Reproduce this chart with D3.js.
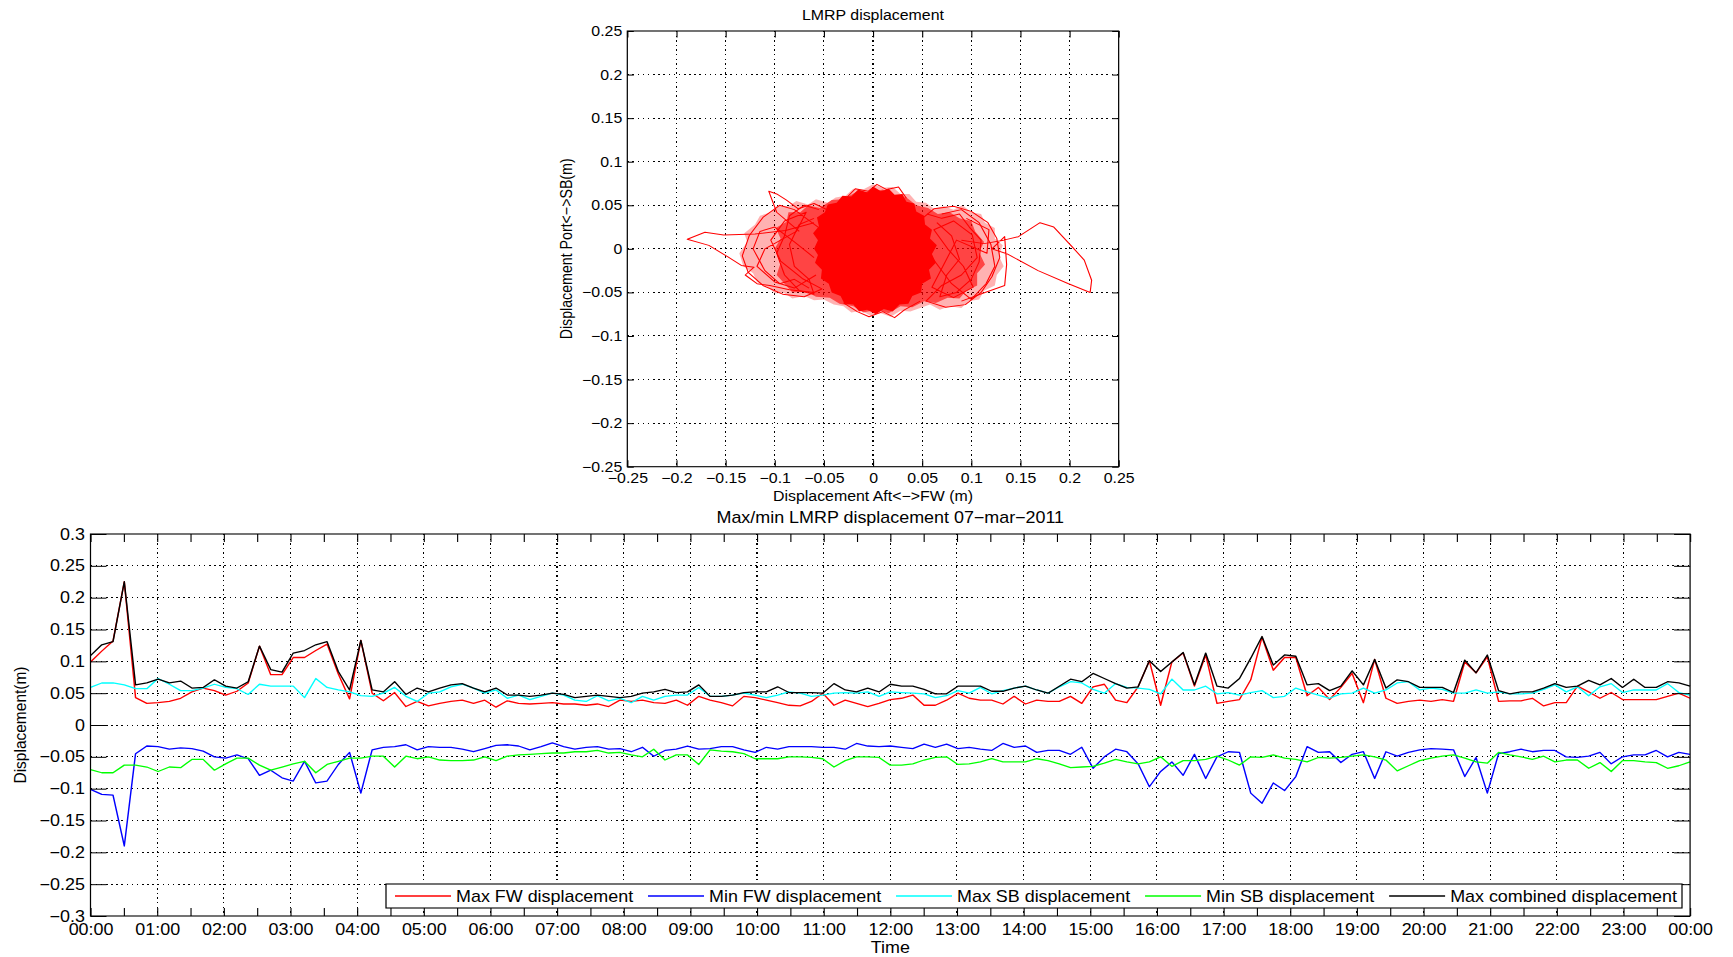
<!DOCTYPE html>
<html>
<head>
<meta charset="utf-8">
<script src="https://cdn.jsdelivr.net/npm/d3@7"></script>
<style>
  body { margin: 0; background: #fff; }
  svg { display: block; }
  text { font-family: "Liberation Sans", Arial, Helvetica, sans-serif; fill: #000; }
  .top text { font-size: 14.2px; }
  .bottom text { font-size: 16px; }
</style>
</head>
<body>
<div id="chart"></div>
<script>
// ---------- top chart: LMRP excursion (Aft<->FW vs Port<->SB) ----------
var scatterTicks = [-0.25, -0.2, -0.15, -0.1, -0.05, 0, 0.05, 0.1, 0.15, 0.2, 0.25];

// outline of the lightly tangled zone
var cloudOuter = [[-0.136,-0.005],[-0.128,0.008],[-0.131,0.018],[-0.120,0.028],[-0.115,0.038],[-0.104,0.042],
  [-0.097,0.050],[-0.086,0.049],[-0.078,0.055],[-0.066,0.051],[-0.058,0.057],[-0.046,0.053],[-0.038,0.059],
  [-0.028,0.061],[-0.020,0.069],[-0.010,0.068],[0.000,0.074],[0.010,0.070],[0.020,0.071],[0.028,0.063],
  [0.037,0.063],[0.044,0.054],[0.054,0.053],[0.062,0.046],[0.072,0.049],[0.082,0.045],[0.091,0.050],
  [0.100,0.042],[0.110,0.040],[0.114,0.030],[0.124,0.024],[0.124,0.012],[0.132,0.004],[0.128,-0.008],
  [0.133,-0.020],[0.126,-0.030],[0.124,-0.042],[0.113,-0.048],[0.108,-0.058],[0.097,-0.060],[0.090,-0.068],
  [0.078,-0.066],[0.068,-0.070],[0.058,-0.064],[0.048,-0.068],[0.038,-0.072],[0.028,-0.071],[0.018,-0.078],
  [0.008,-0.074],[-0.002,-0.077],[-0.012,-0.071],[-0.022,-0.073],[-0.030,-0.066],[-0.040,-0.064],
  [-0.050,-0.058],[-0.060,-0.059],[-0.070,-0.054],[-0.082,-0.057],[-0.090,-0.051],[-0.100,-0.051],
  [-0.108,-0.043],[-0.118,-0.038],[-0.122,-0.028],[-0.132,-0.020]];
// outline of the dense zone
var cloudInner = [[-0.100,0.000],[-0.094,0.012],[-0.099,0.024],[-0.088,0.031],[-0.086,0.042],[-0.074,0.042],
  [-0.066,0.050],[-0.054,0.047],[-0.042,0.056],[-0.030,0.057],[-0.016,0.066],[-0.004,0.064],[0.010,0.068],
  [0.022,0.060],[0.034,0.059],[0.044,0.050],[0.056,0.047],[0.066,0.040],[0.078,0.042],[0.088,0.035],
  [0.100,0.032],[0.104,0.020],[0.113,0.008],[0.108,-0.004],[0.114,-0.018],[0.106,-0.028],[0.106,-0.042],
  [0.095,-0.048],[0.088,-0.057],[0.076,-0.056],[0.064,-0.062],[0.052,-0.060],[0.040,-0.067],[0.028,-0.066],
  [0.016,-0.074],[0.004,-0.070],[-0.010,-0.073],[-0.020,-0.066],[-0.034,-0.063],[-0.044,-0.056],
  [-0.058,-0.055],[-0.068,-0.049],[-0.082,-0.050],[-0.090,-0.040],[-0.098,-0.030],[-0.094,-0.016]];
// outline of the solid core
var cloudCore = [[-0.060,0.000],[-0.056,0.010],[-0.061,0.018],[-0.055,0.026],[-0.057,0.036],[-0.049,0.042],
  [-0.046,0.051],[-0.037,0.053],[-0.031,0.061],[-0.022,0.060],[-0.015,0.068],[-0.006,0.065],[0.001,0.071],
  [0.008,0.066],[0.016,0.069],[0.022,0.062],[0.030,0.063],[0.034,0.054],[0.042,0.052],[0.044,0.043],
  [0.052,0.038],[0.053,0.028],[0.060,0.022],[0.058,0.012],[0.065,0.004],[0.060,-0.006],[0.064,-0.016],
  [0.057,-0.024],[0.059,-0.034],[0.050,-0.040],[0.049,-0.050],[0.040,-0.054],[0.036,-0.063],[0.027,-0.064],
  [0.020,-0.072],[0.011,-0.069],[0.003,-0.075],[-0.006,-0.070],[-0.014,-0.072],[-0.020,-0.064],[-0.029,-0.063],
  [-0.033,-0.054],[-0.042,-0.050],[-0.045,-0.040],[-0.053,-0.034],[-0.052,-0.024],[-0.059,-0.016],[-0.056,-0.007]];

// single excursions and loops that stand out of the cloud
var traceWest = [[-0.050,0.020],[-0.080,0.045],[-0.095,0.050],[-0.112,0.036],[-0.126,0.015],[-0.133,-0.008],
  [-0.127,-0.027],[-0.112,-0.042],[-0.092,-0.052],[-0.070,-0.055],[-0.052,-0.046],[-0.072,-0.034],[-0.094,-0.014],
  [-0.104,0.010],[-0.090,0.032],[-0.068,0.042],[-0.078,0.020],[-0.110,0.000],[-0.118,-0.020],[-0.100,-0.038],
  [-0.080,-0.045],[-0.058,-0.030]];
var traceWest2 = [[-0.055,0.045],[-0.070,0.050],[-0.085,0.038],[-0.090,0.015],[-0.098,-0.005],[-0.090,-0.030],
  [-0.075,-0.048],[-0.060,-0.052],[-0.065,-0.035],[-0.080,-0.020],[-0.085,0.005],[-0.075,0.028],[-0.060,0.035]];
var traceWest3 = [[-0.060,-0.010],[-0.080,0.008],[-0.100,0.025],[-0.115,0.020],[-0.122,0.000],[-0.110,-0.025],
  [-0.095,-0.040],[-0.080,-0.035],[-0.065,-0.045]];
var traceEast = [[0.045,0.030],[0.062,0.046],[0.082,0.049],[0.100,0.043],[0.117,0.030],[0.126,0.012],[0.129,-0.010],
  [0.121,-0.032],[0.110,-0.050],[0.094,-0.064],[0.074,-0.067],[0.054,-0.060],[0.070,-0.042],[0.090,-0.030],
  [0.106,-0.010],[0.101,0.016],[0.082,0.032],[0.062,0.022],[0.076,0.000],[0.092,-0.020],[0.102,-0.044],
  [0.082,-0.056],[0.060,-0.044],[0.085,0.010],[0.116,-0.005],[0.118,0.022],[0.095,0.035]];
var traceEast2 = [[0.055,0.040],[0.070,0.035],[0.088,0.040],[0.098,0.025],[0.110,0.010],[0.108,-0.015],
  [0.100,-0.035],[0.085,-0.050],[0.068,-0.055],[0.075,-0.030],[0.088,-0.012],[0.080,0.015],[0.065,0.030]];
var traceEast3 = [[0.060,-0.010],[0.080,-0.040],[0.100,-0.058],[0.115,-0.040],[0.124,-0.020],[0.120,0.005],
  [0.108,0.030],[0.090,0.045],[0.070,0.040]];
var traceLeftArm = [[-0.060,0.030],[-0.089,0.021],[-0.120,0.017],[-0.152,0.016],[-0.171,0.019],[-0.189,0.011],
  [-0.167,0.004],[-0.148,-0.009],[-0.134,-0.019],[-0.121,-0.021],[-0.130,-0.030],[-0.118,-0.040],[-0.105,-0.042],
  [-0.085,-0.047],[-0.060,-0.050]];
var traceRightArm = [[0.090,0.010],[0.113,0.006],[0.133,0.010],[0.148,0.014],[0.170,0.030],[0.184,0.025],
  [0.203,0.002],[0.215,-0.013],[0.2225,-0.036],[0.221,-0.050],[0.199,-0.040],[0.168,-0.025],[0.137,-0.006],
  [0.121,0.000],[0.134,0.014],[0.136,-0.018],[0.134,-0.042],[0.114,-0.050],[0.090,-0.060]];
var traceSpike = [[-0.075,0.020],[-0.098,0.042],[-0.106,0.066],[-0.098,0.063],[-0.088,0.056],[-0.076,0.046],
  [-0.060,0.052],[-0.045,0.044]];
var traceNorth = [[-0.030,0.055],[-0.018,0.069],[-0.005,0.066],[0.004,0.074],[0.014,0.068],[0.026,0.071],[0.034,0.058]];
var traceSouth = [[-0.030,-0.062],[-0.016,-0.072],[-0.004,-0.078],[0.010,-0.072],[0.022,-0.079],[0.032,-0.070],[0.048,-0.060]];

// ---------- bottom chart: max/min per sample over the day ----------
var seriesNames = ["Max FW displacement", "Min FW displacement", "Max SB displacement",
                   "Min SB displacement", "Max combined displacement"];
var seriesColors = ["#ff0000", "#0000ff", "#00ffff", "#00ff00", "#000000"];

var maxFW = [0.099,0.116,0.132,0.225,0.043,0.034,0.035,0.037,0.042,0.052,0.058,0.054,0.047,0.053,0.066,0.124,0.079,0.079,0.106,0.106,0.117,0.127,0.080,0.041,0.133,
  0.050,0.038,0.051,0.029,0.037,0.030,0.034,0.037,0.039,0.034,0.039,0.028,0.038,0.034,0.033,0.034,0.035,0.033,0.033,0.031,0.033,0.029,0.039,
  0.037,0.039,0.035,0.034,0.039,0.031,0.045,0.039,0.035,0.030,0.045,0.043,0.039,0.035,0.031,0.030,0.037,0.050,0.031,0.039,0.034,0.029,0.034,0.040,
  0.042,0.047,0.031,0.031,0.039,0.050,0.042,0.039,0.039,0.033,0.045,0.033,0.039,0.037,0.037,0.045,0.034,0.060,0.064,0.039,0.035,0.060,0.101,
  0.031,0.099,0.113,0.061,0.110,0.034,0.037,0.040,0.071,0.138,0.086,0.106,0.106,0.046,0.059,0.040,0.059,0.081,0.035,0.103,0.042,0.034,0.037,0.039,
  0.037,0.040,0.037,0.099,0.082,0.107,0.037,0.038,0.038,0.042,0.030,0.035,0.035,0.061,0.052,0.042,0.051,0.040,0.040,0.040,0.040,0.045,0.050,0.042];
var minFW = [-0.101,-0.109,-0.110,-0.190,-0.045,-0.033,-0.034,-0.038,-0.036,-0.037,-0.041,-0.050,-0.052,-0.047,-0.053,-0.079,-0.071,-0.083,-0.088,-0.057,-0.091,-0.088,-0.062,-0.043,-0.107,
  -0.039,-0.035,-0.034,-0.031,-0.039,-0.034,-0.035,-0.035,-0.038,-0.042,-0.037,-0.032,-0.031,-0.033,-0.039,-0.034,-0.028,-0.034,-0.038,-0.035,-0.034,-0.038,-0.037,
  -0.042,-0.035,-0.049,-0.040,-0.038,-0.033,-0.038,-0.037,-0.034,-0.034,-0.039,-0.043,-0.035,-0.038,-0.034,-0.034,-0.034,-0.035,-0.035,-0.038,-0.029,-0.033,-0.034,-0.033,
  -0.035,-0.037,-0.030,-0.035,-0.030,-0.037,-0.035,-0.038,-0.040,-0.029,-0.035,-0.033,-0.043,-0.040,-0.040,-0.046,-0.035,-0.068,-0.050,-0.038,-0.042,-0.061,-0.097,
  -0.073,-0.058,-0.079,-0.046,-0.084,-0.050,-0.042,-0.043,-0.107,-0.123,-0.091,-0.103,-0.081,-0.034,-0.043,-0.042,-0.059,-0.046,-0.042,-0.084,-0.042,-0.049,-0.043,-0.039,
  -0.037,-0.038,-0.039,-0.081,-0.051,-0.107,-0.045,-0.042,-0.038,-0.042,-0.040,-0.040,-0.050,-0.051,-0.049,-0.043,-0.061,-0.050,-0.047,-0.047,-0.040,-0.050,-0.043,-0.046];
var maxSB = [0.059,0.066,0.066,0.063,0.057,0.057,0.073,0.064,0.054,0.054,0.058,0.064,0.059,0.057,0.048,0.064,0.061,0.061,0.061,0.043,0.073,0.059,0.055,0.052,0.046,
  0.045,0.050,0.059,0.045,0.037,0.050,0.052,0.060,0.064,0.058,0.050,0.055,0.042,0.047,0.040,0.045,0.050,0.047,0.039,0.037,0.046,0.038,0.042,
  0.035,0.045,0.039,0.045,0.047,0.047,0.059,0.045,0.045,0.047,0.050,0.047,0.043,0.047,0.052,0.050,0.045,0.047,0.050,0.051,0.050,0.052,0.045,0.052,
  0.051,0.050,0.049,0.043,0.046,0.054,0.050,0.059,0.049,0.054,0.058,0.061,0.055,0.050,0.060,0.068,0.066,0.056,0.050,0.065,0.059,0.058,0.056,
  0.049,0.072,0.055,0.055,0.061,0.049,0.051,0.047,0.051,0.054,0.043,0.045,0.058,0.052,0.047,0.042,0.049,0.050,0.058,0.050,0.055,0.066,0.068,0.055,
  0.058,0.056,0.050,0.050,0.055,0.050,0.052,0.049,0.049,0.050,0.056,0.063,0.052,0.060,0.046,0.060,0.065,0.051,0.055,0.055,0.055,0.065,0.051,0.047];
var minSB = [-0.070,-0.075,-0.075,-0.063,-0.063,-0.066,-0.073,-0.066,-0.067,-0.054,-0.054,-0.071,-0.061,-0.052,-0.052,-0.063,-0.071,-0.066,-0.061,-0.057,-0.075,-0.062,-0.057,-0.052,-0.052,
  -0.049,-0.049,-0.066,-0.049,-0.053,-0.050,-0.055,-0.056,-0.056,-0.055,-0.050,-0.056,-0.049,-0.047,-0.046,-0.045,-0.044,-0.044,-0.042,-0.042,-0.040,-0.044,-0.043,
  -0.047,-0.050,-0.038,-0.055,-0.047,-0.047,-0.062,-0.039,-0.041,-0.042,-0.045,-0.053,-0.053,-0.053,-0.050,-0.050,-0.051,-0.053,-0.066,-0.056,-0.050,-0.050,-0.051,-0.063,
  -0.063,-0.061,-0.055,-0.051,-0.050,-0.062,-0.061,-0.058,-0.053,-0.058,-0.058,-0.058,-0.053,-0.056,-0.061,-0.067,-0.066,-0.065,-0.060,-0.054,-0.058,-0.061,-0.058,
  -0.050,-0.065,-0.056,-0.056,-0.054,-0.049,-0.055,-0.063,-0.050,-0.051,-0.047,-0.052,-0.054,-0.058,-0.051,-0.052,-0.051,-0.049,-0.047,-0.050,-0.055,-0.072,-0.064,-0.056,
  -0.052,-0.049,-0.047,-0.052,-0.058,-0.060,-0.043,-0.047,-0.050,-0.054,-0.049,-0.058,-0.055,-0.055,-0.068,-0.059,-0.073,-0.056,-0.056,-0.058,-0.059,-0.068,-0.064,-0.058];
var maxComb = [0.109,0.126,0.131,0.225,0.063,0.066,0.072,0.066,0.069,0.058,0.059,0.071,0.061,0.058,0.068,0.124,0.087,0.083,0.113,0.117,0.126,0.131,0.084,0.055,0.133,
  0.055,0.052,0.068,0.048,0.058,0.052,0.058,0.063,0.065,0.058,0.052,0.058,0.047,0.047,0.045,0.047,0.050,0.048,0.043,0.045,0.047,0.045,0.043,
  0.045,0.050,0.052,0.056,0.051,0.052,0.063,0.045,0.045,0.047,0.051,0.052,0.052,0.060,0.051,0.051,0.051,0.050,0.065,0.055,0.052,0.058,0.052,0.064,
  0.061,0.061,0.056,0.049,0.049,0.061,0.061,0.061,0.053,0.053,0.058,0.061,0.055,0.050,0.061,0.072,0.068,0.081,0.073,0.065,0.058,0.060,0.101,
  0.084,0.099,0.114,0.063,0.113,0.061,0.058,0.073,0.105,0.139,0.094,0.110,0.108,0.063,0.065,0.054,0.061,0.085,0.063,0.103,0.058,0.071,0.068,0.059,
  0.059,0.059,0.051,0.102,0.082,0.110,0.054,0.049,0.052,0.052,0.058,0.065,0.059,0.061,0.070,0.063,0.073,0.059,0.072,0.059,0.059,0.068,0.066,0.061];

var dispTicks = [-0.3, -0.25, -0.2, -0.15, -0.1, -0.05, 0, 0.05, 0.1, 0.15, 0.2, 0.25, 0.3];
var dayStart = new Date(2011, 2, 7, 0, 0);
var dayEnd = new Date(2011, 2, 8, 0, 0);

// ---------- drawing ----------
var W = 1733, H = 957;
var SX = 1.12;           // the reference picture is stretched sideways, so draw in a stretched group
var fmt = d3.format("~g");

var svg = d3.select("#chart").append("svg").attr("width", W).attr("height", H);
var root = svg.append("g").attr("transform", "scale(" + SX + ",1)");

function dotted(sel) {
    return sel.attr("stroke", "#000").attr("stroke-width", 1).attr("stroke-dasharray", "1.4,3.2")
      .attr("shape-rendering", "crispEdges");
}

// ===== TOP =====
var tb = {left: 560.1, right: 998.8, top: 31, bottom: 466.7};
var sx = d3.scaleLinear().domain([-0.25, 0.25]).range([tb.left, tb.right]);
var sy = d3.scaleLinear().domain([-0.25, 0.25]).range([tb.bottom, tb.top]);
var gt = root.append("g").attr("class", "top");

gt.append("rect").attr("x", tb.left).attr("y", tb.top)
  .attr("width", tb.right - tb.left).attr("height", tb.bottom - tb.top).attr("fill", "#fff");

gt.append("g").selectAll("line").data(scatterTicks.slice(1, -1)).enter().append("line")
  .attr("x1", d => sx(d)).attr("x2", d => sx(d)).attr("y1", tb.top).attr("y2", tb.bottom).call(dotted);
gt.append("g").selectAll("line").data(scatterTicks.slice(1, -1)).enter().append("line")
  .attr("y1", d => sy(d)).attr("y2", d => sy(d)).attr("x1", tb.left).attr("x2", tb.right).call(dotted);

var cloudPath = d3.line().x(d => sx(d[0])).y(d => sy(d[1])).curve(d3.curveLinearClosed);
gt.append("path").attr("d", cloudPath(cloudOuter)).attr("fill", "#ff0000").attr("fill-opacity", 0.3);
gt.append("path").attr("d", cloudPath(cloudInner)).attr("fill", "#ff0000").attr("fill-opacity", 0.62);
gt.append("path").attr("d", cloudPath(cloudCore)).attr("fill", "#ff0000");

var tracePath = d3.line().x(d => sx(d[0])).y(d => sy(d[1]));
gt.append("g").selectAll("path")
  .data([traceWest, traceWest2, traceWest3, traceEast, traceEast2, traceEast3,
         traceLeftArm, traceRightArm, traceSpike, traceNorth, traceSouth])
  .enter().append("path")
  .attr("d", tracePath).attr("fill", "none").attr("stroke", "#ff0000").attr("stroke-width", 1)
  .attr("stroke-linejoin", "round");

var tickH = 6.5, tickW = 6.5 / SX;
gt.append("g").attr("transform", "translate(0," + tb.bottom + ")")
  .call(d3.axisBottom(sx).tickValues(scatterTicks).tickFormat(fmt).tickSizeInner(-tickH).tickSizeOuter(0).tickPadding(6.6));
gt.append("g").attr("transform", "translate(0," + tb.top + ")")
  .call(d3.axisTop(sx).tickValues(scatterTicks).tickFormat("").tickSizeInner(-tickH).tickSizeOuter(0));
gt.append("g").attr("transform", "translate(" + tb.left + ",0)")
  .call(d3.axisLeft(sy).tickValues(scatterTicks).tickFormat(fmt).tickSizeInner(-tickW).tickSizeOuter(0).tickPadding(4.5));
gt.append("g").attr("transform", "translate(" + tb.right + ",0)")
  .call(d3.axisRight(sy).tickValues(scatterTicks).tickFormat("").tickSizeInner(-tickW).tickSizeOuter(0));
gt.selectAll(".domain").remove();
gt.append("rect").attr("x", tb.left).attr("y", tb.top)
  .attr("width", tb.right - tb.left).attr("height", tb.bottom - tb.top)
  .attr("fill", "none").attr("stroke", "#000").attr("stroke-width", 1.1);

gt.append("text").attr("x", (tb.left + tb.right) / 2).attr("y", 20).attr("text-anchor", "middle")
  .text("LMRP displacement");
gt.append("text").attr("x", (tb.left + tb.right) / 2).attr("y", 501).attr("text-anchor", "middle")
  .text("Displacement Aft<\u2212>FW (m)");
gt.append("text").attr("transform", "translate(" + (566 / SX) + "," + ((tb.top + tb.bottom) / 2) + ") rotate(-90)")
  .attr("text-anchor", "middle").attr("dy", "0.36em")
  .text("Displacement Port<\u2212>SB(m)");

// ===== BOTTOM =====
var bb = {left: 80.8, right: 1509, top: 534, bottom: 916};
var tx = d3.scaleTime().domain([dayStart, dayEnd]).range([bb.left, bb.right]);
var dy = d3.scaleLinear().domain([-0.3, 0.3]).range([bb.bottom, bb.top]);
var gb = root.append("g").attr("class", "bottom");

var halfHours = tx.ticks(d3.timeMinute.every(30));
var hours = tx.ticks(d3.timeHour.every(1));
var hm = d3.timeFormat("%H:%M");

gb.append("g").selectAll("line").data(hours.slice(1, -1)).enter().append("line")
  .attr("x1", d => tx(d)).attr("x2", d => tx(d)).attr("y1", bb.top).attr("y2", bb.bottom).call(dotted);
gb.append("g").selectAll("line").data(dispTicks.slice(1, -1)).enter().append("line")
  .attr("y1", d => dy(d)).attr("y2", d => dy(d)).attr("x1", bb.left).attr("x2", bb.right).call(dotted);

var series = [maxFW, minFW, maxSB, minSB, maxComb];
var nSamples = maxFW.length;
var step = (dayEnd - dayStart) / (nSamples - 1);
var seriesLine = d3.line().x((d, i) => tx(new Date(+dayStart + i * step))).y(d => dy(d));
gb.append("g").selectAll("path").data(series).enter().append("path")
  .attr("d", seriesLine).attr("fill", "none")
  .attr("stroke", (d, i) => seriesColors[i]).attr("stroke-width", 1.3).attr("stroke-linejoin", "round");

var xLen = 8, yLen = 16 / SX;
gb.append("g").attr("transform", "translate(0," + bb.bottom + ")")
  .call(d3.axisBottom(tx).tickValues(halfHours).tickFormat(d => d.getMinutes() === 0 ? hm(d) : "")
    .tickSizeInner(-xLen).tickSizeOuter(0).tickPadding(8));
gb.append("g").attr("transform", "translate(0," + bb.top + ")")
  .call(d3.axisTop(tx).tickValues(halfHours).tickFormat("").tickSizeInner(-xLen).tickSizeOuter(0));
gb.append("g").attr("transform", "translate(" + bb.left + ",0)")
  .call(d3.axisLeft(dy).tickValues(dispTicks).tickFormat(fmt).tickSizeInner(-yLen).tickSizeOuter(0).tickPadding(5));
gb.append("g").attr("transform", "translate(" + bb.right + ",0)")
  .call(d3.axisRight(dy).tickValues(dispTicks).tickFormat("").tickSizeInner(-yLen).tickSizeOuter(0));
gb.selectAll(".domain").remove();

// legend (inside, lower right)
var lg = {left: 386 / SX, right: 1682 / SX, top: 884, bottom: 908};
gb.append("rect").attr("x", lg.left).attr("y", lg.top)
  .attr("width", lg.right - lg.left).attr("height", lg.bottom - lg.top)
  .attr("fill", "#fff").attr("stroke", "#000").attr("stroke-width", 1.1);
var lineLen = 50, textGap = 4.5, startX = 395 / SX, endX = 1677 / SX, ly = (lg.top + lg.bottom) / 2;
var items = gb.append("g").selectAll("g").data(seriesNames).enter().append("g");
items.append("line").attr("y1", ly).attr("y2", ly)
  .attr("stroke", (d, i) => seriesColors[i]).attr("stroke-width", 1.3);
items.append("text").attr("y", ly).attr("dy", "0.35em").text(d => d);
var widths = [];
items.select("text").each(function () { widths.push(this.getComputedTextLength()); });
var itemGap = (endX - startX - seriesNames.length * (lineLen + textGap) - d3.sum(widths)) / (seriesNames.length - 1);
var cursorX = startX;
items.each(function (d, i) {
    var g = d3.select(this);
    g.select("line").attr("x1", cursorX).attr("x2", cursorX + lineLen);
    g.select("text").attr("x", cursorX + lineLen + textGap);
    cursorX += lineLen + textGap + widths[i] + itemGap;
});

gb.append("rect").attr("x", bb.left).attr("y", bb.top)
  .attr("width", bb.right - bb.left).attr("height", bb.bottom - bb.top)
  .attr("fill", "none").attr("stroke", "#000").attr("stroke-width", 1.1);

gb.append("text").attr("x", (bb.left + bb.right) / 2).attr("y", 523).attr("text-anchor", "middle")
  .text("Max/min LMRP displacement 07\u2212mar\u22122011");
gb.append("text").attr("x", (bb.left + bb.right) / 2).attr("y", 953).attr("text-anchor", "middle")
  .text("Time");
gb.append("text").attr("transform", "translate(" + (20 / SX) + "," + ((bb.top + bb.bottom) / 2) + ") rotate(-90)")
  .attr("text-anchor", "middle").attr("dy", "0.36em").style("font-size", "15.5px")
  .text("Displacement(m)");
</script>
</body>
</html>
